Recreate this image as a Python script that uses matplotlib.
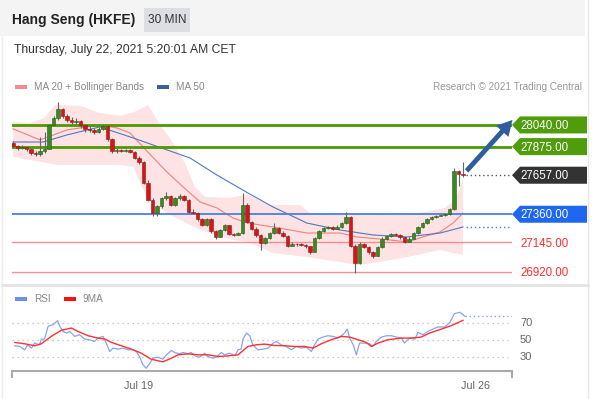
import numpy as np
import matplotlib
matplotlib.use("Agg")
from matplotlib import pyplot as plt
from matplotlib.patches import Rectangle, Polygon
from matplotlib.transforms import blended_transform_factory

plt.rcParams["font.family"] = ["Liberation Sans", "DejaVu Sans"]

#####################################################################
# Data (30 min candles, index 0..100)

opens = [27905, 27880, 27865, 27870, 27855, 27830, 27815, 27840, 27860, 28040,
         28090, 28160, 28110, 28080, 28060, 28070, 28040, 28010, 28000, 27985,
         28010, 28030, 27930, 27840, 27850, 27845, 27850, 27835, 27790, 27760,
         27600, 27470, 27370, 27420, 27480, 27500, 27430, 27480, 27500, 27470,
         27380, 27370, 27320, 27280, 27320, 27230, 27190, 27240, 27275, 27210,
         27205, 27215, 27430, 27300, 27250, 27200, 27140, 27180, 27215, 27255,
         27220, 27195, 27120, 27135, 27130, 27125, 27115, 27075, 27180, 27230,
         27255, 27260, 27250, 27265, 27290, 27340, 27120, 26990, 27130, 27110,
         27070, 27045, 27110, 27175, 27195, 27210, 27205, 27185, 27150, 27175,
         27215, 27260, 27290, 27320, 27340, 27350, 27355, 27360, 27400, 27690,
         27670]
highs = [27915, 27890, 27885, 27875, 27860, 27845, 27950, 27990, 28045, 28110,
         28215, 28170, 28120, 28100, 28090, 28080, 28050, 28030, 28015, 28025,
         28045, 28040, 27940, 27865, 27860, 27860, 27860, 27840, 27800, 27765,
         27620, 27480, 27430, 27490, 27530, 27510, 27490, 27515, 27510, 27475,
         27400, 27380, 27330, 27330, 27330, 27240, 27250, 27285, 27280, 27220,
         27225, 27520, 27445, 27310, 27260, 27210, 27190, 27225, 27295, 27260,
         27230, 27200, 27145, 27140, 27140, 27135, 27120, 27190, 27240, 27265,
         27270, 27270, 27275, 27300, 27380, 27350, 27130, 27150, 27140, 27120,
         27080, 27120, 27185, 27205, 27220, 27215, 27210, 27190, 27185, 27225,
         27270, 27300, 27330, 27345, 27355, 27360, 27365, 27410, 27715, 27700,
         27760]
lows = [27870, 27850, 27855, 27840, 27810, 27800, 27805, 27830, 27855, 28030,
        28080, 28090, 28060, 28045, 28040, 28020, 27990, 27985, 27970, 27980,
        28000, 27920, 27830, 27830, 27835, 27835, 27825, 27780, 27740, 27590,
        27460, 27350, 27350, 27410, 27470, 27420, 27425, 27470, 27460, 27370,
        27360, 27310, 27270, 27270, 27220, 27170, 27185, 27230, 27200, 27195,
        27200, 27210, 27290, 27240, 27190, 27090, 27130, 27170, 27210, 27210,
        27185, 27110, 27115, 27120, 27115, 27105, 27060, 27070, 27175, 27225,
        27245, 27240, 27245, 27255, 27285, 27110, 26915, 26980, 27100, 27060,
        27030, 27040, 27100, 27165, 27190, 27195, 27175, 27140, 27145, 27170,
        27210, 27255, 27285, 27315, 27335, 27345, 27350, 27355, 27395, 27575,
        27640]
closes = [27880, 27865, 27870, 27855, 27830, 27815, 27840, 27860, 28040, 28090,
          28160, 28110, 28080, 28060, 28070, 28040, 28010, 28000, 27985, 28010,
          28030, 27930, 27840, 27850, 27845, 27850, 27835, 27790, 27760, 27600,
          27470, 27370, 27420, 27480, 27500, 27430, 27480, 27500, 27470, 27380,
          27370, 27320, 27280, 27320, 27230, 27190, 27240, 27275, 27210, 27205,
          27215, 27430, 27300, 27250, 27200, 27140, 27180, 27215, 27255, 27220,
          27195, 27120, 27135, 27130, 27125, 27115, 27075, 27180, 27230, 27255,
          27260, 27250, 27265, 27290, 27340, 27120, 26990, 27130, 27110, 27070,
          27045, 27110, 27175, 27195, 27210, 27205, 27185, 27150, 27175, 27215,
          27260, 27290, 27320, 27340, 27350, 27355, 27360, 27400, 27690, 27670,
          27657]

# Bollinger bands / moving averages (index, price)
bb_up_idx = [0, 3.8, 7, 9.3, 15, 19.3, 23.8, 27, 30, 32, 35.1, 38.2, 40.4, 42.7,
             47.8, 52.2, 57.1, 63.8, 66, 72.7, 79.3, 86, 91.6, 96, 98.2, 100]
bb_up = [28063, 28055, 28093, 28192, 28185, 28131, 28109, 28139, 28192, 28078,
         27926, 27750, 27568, 27492, 27484, 27507, 27430, 27430, 27369, 27354,
         27369, 27354, 27377, 27408, 27469, 27621]
bb_lo_idx = [0, 3.8, 10, 17.5, 23.8, 26.7, 30, 34.2, 41.6, 48.9, 52.2, 57.8,
             65.3, 72.7, 76.4, 80, 87.6, 94.9, 97.8, 100]
bb_lo = [27796, 27773, 27735, 27735, 27735, 27720, 27469, 27369, 27240, 27164,
         27149, 27065, 27034, 26996, 26973, 26988, 27034, 27088, 27065, 27050]
ma20_idx = [0, 6, 12, 19.3, 23.1, 26, 28.9, 34.2, 37.8, 41.6, 45.3, 48.9, 52.2,
            57.8, 65.3, 72.7, 76.4, 83.8, 87.6, 91.1, 94.9, 97.8, 100]
ma20 = [28010, 27926, 28002, 28040, 28017, 27979, 27872, 27682, 27568, 27453,
        27408, 27331, 27293, 27263, 27217, 27217, 27187, 27164, 27149, 27187,
        27225, 27293, 27369]
ma50_idx = [0, 6.7, 12, 19.3, 26.7, 34.2, 39.3, 45.3, 52.2, 57.8, 65.3, 72.7,
            80, 87.6, 94.9, 100]
ma50 = [27910, 27910, 27964, 28025, 27941, 27850, 27789, 27659, 27522, 27415,
        27293, 27240, 27202, 27187, 27217, 27263]

# key levels
res_levels = [28040, 27875]
last_price = 27657
piv_level = 27360
sup_levels = [27145, 26920]

# RSI panel
rsi_idx = [0.4, 1.5, 2.6, 3.3, 4.1, 4.8, 5.9, 6.3, 7.0, 7.8, 8.9, 9.9, 10.4, 11.1,
           11.9, 12.6, 13.7, 14.8, 15.9, 17.0, 18.1, 18.9, 20.0, 20.7, 21.5, 22.2,
           23.3, 24.4, 25.6, 26.7, 27.4, 28.1, 28.9, 29.6, 30.4, 31.1, 32.2, 33.3,
           34.1, 35.2, 35.9, 37.0, 37.8, 38.9, 39.6, 40.7, 41.5, 42.6, 43.3, 44.4,
           45.2, 46.3, 47.0, 48.1, 49.3, 50.0, 50.7, 51.1, 51.9, 52.6, 53.3, 54.4,
           55.6, 56.7, 57.8, 58.5, 59.6, 60.7, 61.9, 63.0, 64.1, 65.2, 66.3, 67.0,
           67.8, 68.9, 70.0, 71.1, 72.2, 73.0, 73.7, 74.3, 74.8, 75.6, 76.3, 77.0,
           78.1, 79.3, 80.0, 80.7, 81.9, 83.0, 84.1, 85.2, 86.3, 87.0, 88.1, 89.3,
           90.0, 91.1, 92.2, 93.3, 94.4, 95.9, 97.0, 98.1, 99.3, 100.0, 100.4]
rsi = [42.8, 42, 38, 44, 40, 46, 44, 50.8, 50.8, 66, 68, 72.8, 66, 60, 58, 60, 54,
       56, 50.8, 50, 48, 52, 54, 46, 36, 40, 38.8, 40, 38, 38, 36, 30, 20, 16, 22,
       28, 29.2, 26.8, 32, 37.2, 34.8, 33.2, 34.8, 33.2, 34.8, 30, 29.2, 34, 30,
       28, 29.2, 34.8, 32, 34, 30.8, 38, 38.8, 50.8, 58, 54.8, 44, 38, 38.8, 40,
       46, 48, 44, 42, 38, 42, 40, 41.2, 36, 44, 50.8, 53.2, 54.8, 54, 52, 54.8,
       58, 62.8, 52, 44, 32, 46, 46, 45.2, 42, 48, 53.2, 54.8, 54.8, 53.2, 52, 46,
       52, 50.8, 58.8, 56, 60, 62.8, 65.2, 65.2, 70, 81.2, 82.8, 80, 78]
ma9_idx = [0.4, 2.6, 4.8, 6.3, 8.5, 10.7, 13.0, 14.4, 16.7, 18.9, 20.4, 21.9,
           24.1, 26.3, 28.5, 30.7, 33.3, 35.2, 36.7, 38.9, 41.1, 43.3, 45.6, 47.8,
           50.0, 52.2, 54.1, 55.9, 58.1, 60.4, 62.6, 64.8, 66.7, 68.5, 70.7, 73.0,
           74.8, 76.7, 78.5, 79.6, 81.1, 83.3, 86.3, 88.5, 90.7, 92.6, 95.2, 97.4,
           100.0]
ma9 = [46.8, 45.2, 42.8, 45.2, 54, 61.2, 64, 60, 54.8, 52, 50.8, 46.8, 42.8, 38.8,
       34, 26.8, 23.6, 28, 32, 33.2, 32, 32, 30, 30.8, 32, 42, 44, 44.8, 43.2, 42.8,
       42, 42, 40, 45.2, 50, 54, 53.2, 50, 46.8, 42, 46, 50, 52, 52, 53.2, 58, 62.8,
       66.8, 73.2]
rsi_levels = [70, 50, 30]
date_ticks = [28, 102.7]
date_labels = ["Jul 19", "Jul 26"]

#####################################################################
W, H = 593, 399


def fx(px):
    return px / W


def fy(py):
    return 1 - py / H


fig = plt.figure(figsize=(W / 100, H / 100), dpi=100)
fig.patch.set_facecolor("white")

# card frame + header
fig.add_artist(Rectangle((0, fy(36)), fx(585), 36 / H, transform=fig.transFigure,
                         facecolor="#f4f4f4", edgecolor="none"))
fig.add_artist(Rectangle((fx(144), fy(32)), fx(46), 24 / H, transform=fig.transFigure,
                         facecolor="#dcdee4", edgecolor="none"))
fig.add_artist(plt.Line2D([fx(588), fx(588)], [0, 1], color="#e6e6e6", lw=1))
fig.add_artist(plt.Line2D([fx(2), fx(2)], [0, fy(36)], color="#eeeeee", lw=1))
fig.add_artist(plt.Line2D([fx(2), fx(588)], [fy(285), fy(285)], color="#e4e4e4", lw=2))

fig.text(fx(12), fy(20), "Hang Seng (HKFE)", fontsize=10, fontweight="bold",
         color="#222222", va="center")
fig.text(fx(167), fy(20), "30 MIN", fontsize=8.6, color="#333333", va="center", ha="center")
fig.text(fx(14), fy(50), "Thursday, July 22, 2021 5:20:01 AM CET", fontsize=8.7,
         color="#333333", va="center")

# legends
fig.add_artist(Rectangle((fx(15), fy(89)), fx(12), 4 / H, transform=fig.transFigure,
                         facecolor="#f58a8a", edgecolor="none"))
fig.text(fx(34), fy(87), "MA 20 + Bollinger Bands", fontsize=7.2, color="#888888", va="center")
fig.add_artist(Rectangle((fx(157), fy(89)), fx(12), 4 / H, transform=fig.transFigure,
                         facecolor="#3a5fa0", edgecolor="none"))
fig.text(fx(176), fy(87), "MA 50", fontsize=7.2, color="#888888", va="center")
fig.text(fx(582), fy(87), "Research \u00a9 2021 Trading Central", fontsize=7.2,
         color="#999999", va="center", ha="right")

fig.add_artist(Rectangle((fx(15), fy(301)), fx(12), 4 / H, transform=fig.transFigure,
                         facecolor="#6a8fe8", edgecolor="none"))
fig.text(fx(34), fy(299), "RSI", fontsize=7.2, color="#888888", va="center")
fig.add_artist(Rectangle((fx(64), fy(301)), fx(12), 4 / H, transform=fig.transFigure,
                         facecolor="#ff1010", edgecolor="none"))
fig.text(fx(83), fy(299), "9MA", fontsize=7.2, color="#888888", va="center")

#####################################################################
# price panel
xmin, xmax = (12 - 13) / 4.5, (512 - 13) / 4.5
ax = fig.add_axes([fx(12), fy(282), fx(500), 187 / H])
ax.set_xlim(xmin, xmax)
ax.set_ylim(26844, 28268)
ax.axis("off")

ax.fill(np.concatenate([bb_up_idx, bb_lo_idx[::-1]]),
        np.concatenate([bb_up, bb_lo[::-1]]), color="#fde3e3", lw=0, zorder=1)
ax.plot(ma20_idx, ma20, color="#f48080", lw=0.8, zorder=2)
ax.plot(ma50_idx, ma50, color="#5078c0", lw=0.8, zorder=2)

for lv in res_levels:
    ax.axhline(lv, color="#4c9a00", lw=2, zorder=3)
ax.axhline(piv_level, color="#4a7fe6", lw=1.3, zorder=3)
for lv in sup_levels:
    ax.axhline(lv, color="#f29090", lw=1, zorder=3)

idx = np.arange(len(closes))
o = np.array(opens)
c = np.array(closes)
up = c >= o
ax.vlines(idx, lows, highs, color="#666666", lw=0.8, zorder=4)
ax.bar(idx[up], (c - o)[up], bottom=o[up], width=0.7, color="#3a8a24",
       edgecolor="#2a5a1a", lw=0.4, zorder=5)
ax.bar(idx[~up], (o - c)[~up], bottom=c[~up], width=0.7, color="#d81414",
       edgecolor="#8a1a1a", lw=0.4, zorder=5)

ax.plot([idx[-1] + 0.6, xmax], [last_price, last_price], color="#555555", lw=1,
        ls=(0, (1, 2)), zorder=3)
ax.plot([idx[-1] + 0.6, xmax], [ma50[-1], ma50[-1]], color="#5078c0", lw=1,
        ls=(0, (1, 2)), zorder=3)

ax.annotate("", xy=(xmax + 0.1, 28078), xytext=(idx[-1] + 0.8, 27690),
            arrowprops=dict(facecolor="#2f5e9e", edgecolor="none", width=3.5,
                            headwidth=12, headlength=11, shrink=0),
            annotation_clip=False, zorder=6)

# right-hand level tags
tr = blended_transform_factory(ax.transAxes, ax.transData)
hh = 8.5 * 7.62
tags = [(res_levels[0], "#4f9d0b"), (res_levels[1], "#4f9d0b"),
        (last_price, "#333333"), (piv_level, "#1f66f0")]
for lv, col in tags:
    pts = [(1.0, lv), (1.016, lv + hh), (1.15, lv + hh), (1.15, lv - hh), (1.016, lv - hh)]
    ax.add_patch(Polygon(pts, closed=True, transform=tr, facecolor=col,
                         edgecolor="none", clip_on=False, zorder=6))
    ax.text(1.065, lv - 8, f"{lv:.2f}", transform=tr, ha="center", va="center",
            fontsize=8.3, color="white", clip_on=False, zorder=7)
for lv in sup_levels:
    ax.text(1.065, lv - 8, f"{lv:.2f}", transform=tr, ha="center", va="center",
            fontsize=8.3, color="#ff2a2a", clip_on=False, zorder=7)

#####################################################################
# RSI panel
ax2 = fig.add_axes([fx(12), fy(371), fx(500), 63 / H])
ax2.set_xlim(xmin, xmax)
ax2.set_ylim(12.7, 87.9)
for s in ["top", "left", "right"]:
    ax2.spines[s].set_visible(False)
ax2.spines["bottom"].set_color("#aaaaaa")
ax2.spines["bottom"].set_linewidth(1.5)
for lv in rsi_levels:
    ax2.plot([xmin, (508 - 13) / 4.5], [lv, lv], color="#bbbbbb", lw=0.9,
             ls=(0, (1, 3)), zorder=1)
ax2.plot(rsi_idx, rsi, color="#86a4ee", lw=0.9, zorder=2)
ax2.plot(ma9_idx, ma9, color="#ff3030", lw=1.0, zorder=3)
ax2.plot([rsi_idx[-1], xmax], [rsi[-1], rsi[-1]], color="#86a4ee", lw=1,
         ls=(0, (1, 2)), zorder=2)
ax2.set_yticks([])
ax2.set_xticks(date_ticks)
ax2.set_xticklabels(date_labels, fontsize=7.8, color="#666666")
ax2.tick_params(axis="x", length=0, pad=7)
ax2.set_xticks([xmin, xmax], minor=True)
ax2.tick_params(axis="x", which="minor", length=5, width=1.5, color="#aaaaaa")
for lv in rsi_levels:
    ax2.text(1.016, lv, str(lv), transform=blended_transform_factory(ax2.transAxes, ax2.transData),
             fontsize=8, color="#666666", va="center", ha="left")

fig.savefig("out.png", dpi=100)
